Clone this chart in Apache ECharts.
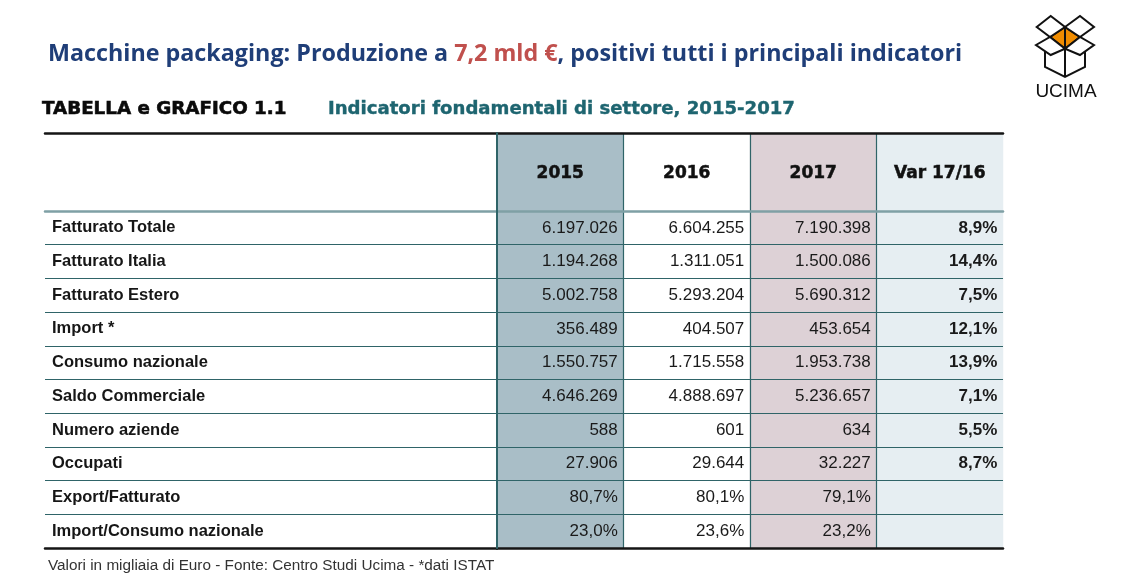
<!DOCTYPE html>
<html>
<head>
<meta charset="utf-8">
<script src="https://cdn.jsdelivr.net/npm/echarts@6/dist/echarts.min.js"></script>
<style>html,body{margin:0;padding:0;background:#fff}#c{width:1122px;height:588px}</style>
</head>
<body>
<div id="c"></div>
<script>
// ---- data ----
var columns = ['2015', '2016', '2017', 'Var 17/16'];
var rows = ['Fatturato Totale', 'Fatturato Italia', 'Fatturato Estero', 'Import *', 'Consumo nazionale',
  'Saldo Commerciale', 'Numero aziende', 'Occupati', 'Export/Fatturato', 'Import/Consumo nazionale'];
var rowUnit = ['n', 'n', 'n', 'n', 'n', 'n', 'n', 'n', '%', '%'];
var v2015 = [6197026, 1194268, 5002758, 356489, 1550757, 4646269, 588, 27906, 80.7, 23.0];
var v2016 = [6604255, 1311051, 5293204, 404507, 1715558, 4888697, 601, 29644, 80.1, 23.6];
var v2017 = [7190398, 1500086, 5690312, 453654, 1953738, 5236657, 634, 32227, 79.1, 23.2];
var var1716 = [8.9, 14.4, 7.5, 12.1, 13.9, 7.1, 5.5, 8.7, null, null];

// ---- styling ----
var colColors = ['#A9BEC7', '#FFFFFF', '#DDD1D6', '#E6EEF2'];
var lineTeal = '#2F6468';
var sepTeal = '#7FA0A5';
var black = '#151515';

function fmtInt(v) { return String(v).replace(/\B(?=(\d{3})+(?!\d))/g, '.'); }
function fmtPct(v) { return v.toFixed(1).replace('.', ',') + '%'; }
var colValues = [v2015, v2016, v2017, var1716];
function cellText(c, r) {
  var v = colValues[c][r];
  if (v === null || v === undefined) return '';
  if (c === 3 || rowUnit[r] === '%') return fmtPct(v);
  return fmtInt(v);
}

var headerData = columns.map(function (name, c) {
  return { value: [c, 0, c], itemStyle: { color: colColors[c] } };
});
var bodyData = [];
for (var c = 0; c < columns.length; c++) {
  for (var r = 0; r < rows.length; r++) {
    bodyData.push({
      value: [c, r, colValues[c][r] === null ? 0 : colValues[c][r]],
      itemStyle: { color: colColors[c] },
      label: { fontWeight: c === 3 ? 'bold' : 'normal' }
    });
  }
}

var G_LEFT = 45, G_SPLIT = 497, G_RIGHT = 1003, H_TOP = 133, H_BOT = 211, B_BOT = 548;
function hidden() { return { show: false }; }

var chart = echarts.init(document.getElementById('c'), null, { renderer: 'canvas' });
chart.setOption({
  animation: false,
  backgroundColor: '#ffffff',
  title: [
    {
      left: 48, top: 39, padding: 0,
      text: '{b|Macchine packaging: Produzione a }{r|7,2 mld €}{b|, positivi tutti i principali indicatori}',
      textStyle: {
        rich: {
          b: { fontFamily: 'Open Sans', fontWeight: 'bold', fontSize: 23.3, color: '#1F3E78', lineHeight: 30 },
          r: { fontFamily: 'Open Sans', fontWeight: 'bold', fontSize: 23.3, color: '#C0504D', lineHeight: 30 }
        }
      }
    },
    {
      left: 42, top: 98, padding: 0, text: 'TABELLA e GRAFICO 1.1',
      textStyle: { fontFamily: 'DejaVu Sans', fontWeight: 'bold', fontSize: 18.3, color: '#0A0A0A', lineHeight: 22,
        textBorderColor: '#0A0A0A', textBorderWidth: 0.6 }
    },
    {
      left: 328, top: 98, padding: 0, text: 'Indicatori fondamentali di settore, 2015-2017',
      textStyle: { fontFamily: 'DejaVu Sans', fontWeight: 'bold', fontSize: 18.1, color: '#1E6570', lineHeight: 22,
        textBorderColor: '#1E6570', textBorderWidth: 0.4 }
    },
    {
      left: 48, top: 557, padding: 0, text: 'Valori in migliaia di Euro - Fonte: Centro Studi Ucima - *dati ISTAT',
      textStyle: { fontFamily: 'Liberation Sans', fontWeight: 'normal', fontSize: 15.3, color: '#333333', lineHeight: 17 }
    }
  ],
  grid: [
    { left: G_LEFT, top: H_TOP, width: G_SPLIT - G_LEFT, height: H_BOT - H_TOP },
    { left: G_SPLIT, top: H_TOP, width: G_RIGHT - G_SPLIT, height: H_BOT - H_TOP },
    { left: G_LEFT, top: H_BOT, width: G_SPLIT - G_LEFT, height: B_BOT - H_BOT },
    { left: G_SPLIT, top: H_BOT, width: G_RIGHT - G_SPLIT, height: B_BOT - H_BOT }
  ],
  xAxis: [
    { gridIndex: 0, type: 'category', data: [''], position: 'top', z: 10,
      axisLine: { lineStyle: { color: black, width: 2.5 } }, axisTick: hidden(), axisLabel: hidden(), splitLine: hidden() },
    { gridIndex: 1, type: 'category', data: columns, position: 'top', z: 10,
      axisLine: { lineStyle: { color: black, width: 2.5 } }, axisTick: hidden(), axisLabel: { show: false, interval: 0 },
      splitLine: { show: true, interval: 0, showMinLine: false, showMaxLine: false, lineStyle: { color: lineTeal, width: 1.2 } } },
    { gridIndex: 2, type: 'category', data: [''], position: 'bottom', z: 10,
      axisLine: { lineStyle: { color: black, width: 2.5 } }, axisTick: hidden(), axisLabel: hidden(), splitLine: hidden() },
    { gridIndex: 3, type: 'category', data: columns, position: 'bottom', z: 10,
      axisLine: { lineStyle: { color: black, width: 2.5 } }, axisTick: hidden(), axisLabel: { show: false, interval: 0 },
      splitLine: { show: true, interval: 0, showMinLine: false, showMaxLine: false, lineStyle: { color: lineTeal, width: 1.2 } } },
    { gridIndex: 2, type: 'category', data: [''], position: 'top', z: 11,
      axisLine: { lineStyle: { color: sepTeal, width: 2.5 } }, axisTick: hidden(), axisLabel: hidden(), splitLine: hidden() },
    { gridIndex: 3, type: 'category', data: columns, position: 'top', z: 11,
      axisLine: { lineStyle: { color: sepTeal, width: 2.5 } }, axisTick: hidden(), axisLabel: hidden(), splitLine: hidden() }
  ],
  yAxis: [
    { gridIndex: 0, type: 'category', data: [''], z: 10,
      axisLine: hidden(), axisTick: hidden(), axisLabel: hidden(), splitLine: hidden() },
    { gridIndex: 1, type: 'category', data: [''], z: 12,
      axisLine: { lineStyle: { color: lineTeal, width: 2 } }, axisTick: hidden(), axisLabel: hidden(), splitLine: hidden() },
    { gridIndex: 2, type: 'category', data: rows, inverse: true, z: 10,
      axisLine: hidden(), axisTick: hidden(),
      axisLabel: { show: true, inside: true, margin: 7, interval: 0, align: 'left',
        fontFamily: 'Liberation Sans', fontWeight: 'bold', fontSize: 16.5, color: '#161616' },
      splitLine: { show: true, interval: 0, showMinLine: false, showMaxLine: false, lineStyle: { color: lineTeal, width: 1.2 } } },
    { gridIndex: 3, type: 'category', data: rows, inverse: true, z: 12,
      axisLine: { lineStyle: { color: lineTeal, width: 2 } }, axisTick: hidden(), axisLabel: { show: false, interval: 0 },
      splitLine: { show: true, interval: 0, showMinLine: false, showMaxLine: false, lineStyle: { color: lineTeal, width: 1.2 } } }
  ],
  series: [
    {
      type: 'heatmap', xAxisIndex: 1, yAxisIndex: 1, data: headerData, z: 2,
      emphasis: { disabled: true },
      label: { show: true, position: 'inside', offset: [0, 2], fontFamily: 'DejaVu Sans', fontWeight: 'bold', fontSize: 17,
        color: '#111111', textBorderColor: '#111111', textBorderWidth: 0.5,
        formatter: function (p) { return columns[p.value[0]]; } }
    },
    {
      type: 'heatmap', xAxisIndex: 3, yAxisIndex: 3, data: bodyData, z: 2,
      emphasis: { disabled: true },
      label: { show: true, position: 'insideRight', distance: 6, fontFamily: 'Liberation Sans', fontSize: 17, color: '#1A1A1A',
        formatter: function (p) { return cellText(p.value[0], p.value[1]); } }
    }
  ],
  graphic: [
    {
      type: 'group', z: 20,
      children: [
        { type: 'polygon', shape: { points: [[1065, 27], [1080, 37], [1065, 48.7], [1050, 37]] },
          style: { fill: '#F08C00', stroke: '#111', lineWidth: 2, lineJoin: 'miter' } },
        { type: 'polygon', shape: { points: [[1036.7, 27], [1050.7, 16], [1065, 27], [1050, 37]] },
          style: { fill: '#fff', stroke: '#111', lineWidth: 2 } },
        { type: 'polygon', shape: { points: [[1065, 27], [1080, 16], [1094, 27], [1080, 37]] },
          style: { fill: '#fff', stroke: '#111', lineWidth: 2 } },
        { type: 'polygon', shape: { points: [[1036, 45], [1050, 37], [1065, 48.7], [1050.7, 55]] },
          style: { fill: '#fff', stroke: '#111', lineWidth: 2 } },
        { type: 'polygon', shape: { points: [[1065, 48.7], [1080, 37], [1094, 45], [1080, 55]] },
          style: { fill: '#fff', stroke: '#111', lineWidth: 2 } },
        { type: 'polyline', shape: { points: [[1045, 51], [1045, 67], [1065, 77], [1085, 67], [1085, 51]] },
          style: { fill: null, stroke: '#111', lineWidth: 2 } },
        { type: 'polyline', shape: { points: [[1065, 27], [1065, 77]] },
          style: { fill: null, stroke: '#111', lineWidth: 2 } },
        { type: 'text', x: 1066, y: 92,
          style: { text: 'UCIMA', fontFamily: 'Liberation Sans', fontSize: 19, fill: '#111', align: 'center', verticalAlign: 'middle' } }
      ]
    }
  ]
});
</script>
</body>
</html>
